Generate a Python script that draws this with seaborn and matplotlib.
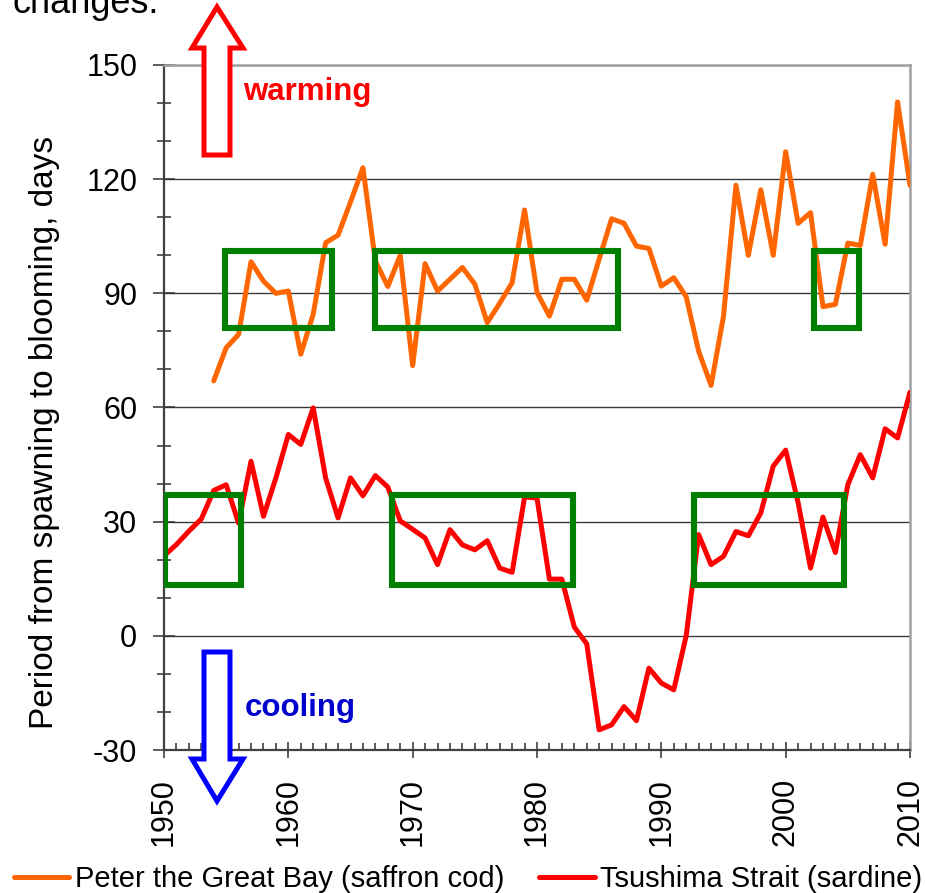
import numpy as np
import pandas as pd
import matplotlib
matplotlib.use("Agg")
import matplotlib.pyplot as plt
from matplotlib.patches import Polygon, Rectangle
from matplotlib.ticker import MultipleLocator
import seaborn as sns

# ---- data -------------------------------------------------------------
cod_years = list(range(1954, 2011))
cod_days = [67, 75.7, 79.2, 98.3, 93.2, 90, 90.6, 74, 84.5, 103.3,
            105.3, 114, 123, 98.5, 91.8, 100, 71, 97.8, 90.6, 93.7,
            96.8, 92.4, 82.3, 87.4, 92.8, 111.9, 90.2, 84, 93.7, 93.7,
            88.2, 99, 109.6, 108.4, 102.4, 101.8, 91.9, 94.1, 89.1, 74.8,
            65.8, 84, 118.4, 100, 117.2, 100, 127.2, 108.4, 111.2, 86.5,
            87.1, 103.2, 102.6, 121.3, 102.9, 140.3, 118.4]

sardine_years = list(range(1950, 2011))
sardine_days = [21, 24, 27.5, 30.7, 38.2, 39.7, 29.6, 45.9, 31.4, 41.5,
                52.9, 50.3, 59.9, 41.5, 31, 41.5, 36.8, 42.1, 39.1, 30.2,
                28, 25.7, 18.7, 27.9, 23.9, 22.6, 25, 17.8, 16.7, 36.5,
                36.2, 14.9, 14.9, 2.3, -2.1, -24.7, -23.4, -18.6, -22.3, -8.5,
                -12.4, -14.2, 0, 26.6, 18.7, 20.9, 27.4, 26.3, 32.3, 44.6,
                48.8, 35, 17.8, 31.2, 21.9, 39.7, 47.6, 41.5, 54.4, 52,
                64]

series_names = ["Peter the Great Bay (saffron cod)", "Tsushima Strait (sardine)"]
series_colors = ["#FF6600", "#FF0000"]

# highlighted periods: (start year, end year, low, high)
cod_periods = [(1954.9, 1963.5, 81, 101),
               (1967.0, 1986.5, 81, 101),
               (2002.3, 2005.9, 81, 101)]
sardine_periods = [(1950.1, 1956.2, 13.4, 37.1),
                   (1968.3, 1982.9, 13.4, 37.1),
                   (1992.6, 2004.7, 13.4, 37.1)]

y_ticks = [-30, 0, 30, 60, 90, 120, 150]
x_ticks = [1950, 1960, 1970, 1980, 1990, 2000, 2010]

df = pd.concat([
    pd.DataFrame({"year": cod_years, "days": cod_days, "series": series_names[0]}),
    pd.DataFrame({"year": sardine_years, "days": sardine_days, "series": series_names[1]}),
], ignore_index=True)

# ---- figure -----------------------------------------------------------
sns.set_theme(style="white")
plt.rcParams["font.family"] = ["Liberation Sans", "DejaVu Sans"]
for key in ("text.color", "axes.labelcolor", "xtick.color", "ytick.color"):
    plt.rcParams[key] = "black"

W, H = 925, 893
fig = plt.figure(figsize=(W / 100, H / 100), dpi=100)
ax = fig.add_axes([164 / W, 1 - 750 / H, (910 - 164) / W, (750 - 65) / H])


def fx(px):
    return px / W


def fy(py):
    return 1 - py / H


ax.grid(axis="y", color="#3a3a3a", linewidth=1.0)
ax.set_axisbelow(True)

sns.lineplot(data=df, x="year", y="days", hue="series",
             palette=dict(zip(series_names, series_colors)),
             linewidth=3.6, ax=ax, legend=False, zorder=3)

for x0, x1, y0, y1 in cod_periods + sardine_periods:
    ax.add_patch(Rectangle((x0, y0), x1 - x0, y1 - y0, fill=False,
                           edgecolor="#008000", linewidth=4.4,
                           joinstyle="miter", zorder=4))

ax.set_xlim(1950, 2010)
ax.set_ylim(-30, 150)
ax.set_xticks(x_ticks)
ax.set_xticklabels([str(t) for t in x_ticks], rotation=90)
ax.set_yticks(y_ticks)
ax.set_yticklabels([str(t) for t in y_ticks])
ax.xaxis.set_minor_locator(MultipleLocator(1))
ax.yaxis.set_minor_locator(MultipleLocator(10))

ax.tick_params(axis="y", which="major", direction="inout", length=16.5,
               width=1.1, color="#303030", labelcolor="black", labelsize=22,
               pad=11, left=True)
ax.tick_params(axis="y", which="minor", direction="inout", length=9.4,
               width=1.1, color="#303030", left=True)
ax.tick_params(axis="x", which="major", direction="inout", length=12,
               width=1.1, color="#303030", labelcolor="black", labelsize=22,
               pad=14, bottom=True)
ax.tick_params(axis="x", which="minor", direction="in", length=5,
               width=1.1, color="#303030", bottom=True)

for side in ("left", "bottom"):
    ax.spines[side].set_color("#404040")
    ax.spines[side].set_linewidth(1.6)
for side in ("top", "right"):
    ax.spines[side].set_color("#A0A0A0")
    ax.spines[side].set_linewidth(1.8)

ax.set_xlabel("")
ax.set_ylabel("Period from spawning to blooming, days", fontsize=24, color="black")
ax.yaxis.set_label_coords(-0.139, 0.464)

# warming / cooling arrows
up = [(217, 7), (243, 48), (230, 48), (230, 155), (204, 155), (204, 48), (192, 48)]
down = [(217, 801), (243, 759), (230, 759), (230, 652), (204, 652), (204, 759), (192, 759)]
fig.patches.append(Polygon([(fx(x), fy(y)) for x, y in up], closed=True,
                           facecolor="white", edgecolor="#FF0000", linewidth=3.6,
                           joinstyle="miter", transform=fig.transFigure, zorder=5))
fig.patches.append(Polygon([(fx(x), fy(y)) for x, y in down], closed=True,
                           facecolor="white", edgecolor="#0000FF", linewidth=3.6,
                           joinstyle="miter", transform=fig.transFigure, zorder=5))
fig.text(fx(243), fy(100), "warming", color="#FF0000", fontsize=22.5,
         fontweight="bold", ha="left", va="baseline")
fig.text(fx(245), fy(716), "cooling", color="#0000CC", fontsize=22.5,
         fontweight="bold", ha="left", va="baseline")

fig.text(fx(12), fy(13), "changes.", fontsize=26, ha="left", va="baseline",
         color="black")

handles = [plt.Line2D([], [], color=c, linewidth=3.6) for c in series_colors]
fig.legend(handles, series_names, loc="center", bbox_to_anchor=(fx(468), fy(879)),
           ncol=2, frameon=False, fontsize=21, handlelength=1.9,
           handletextpad=0.2, columnspacing=1.2, borderpad=0, borderaxespad=0,
           labelcolor="black")

fig.savefig("out.png", dpi=100)
